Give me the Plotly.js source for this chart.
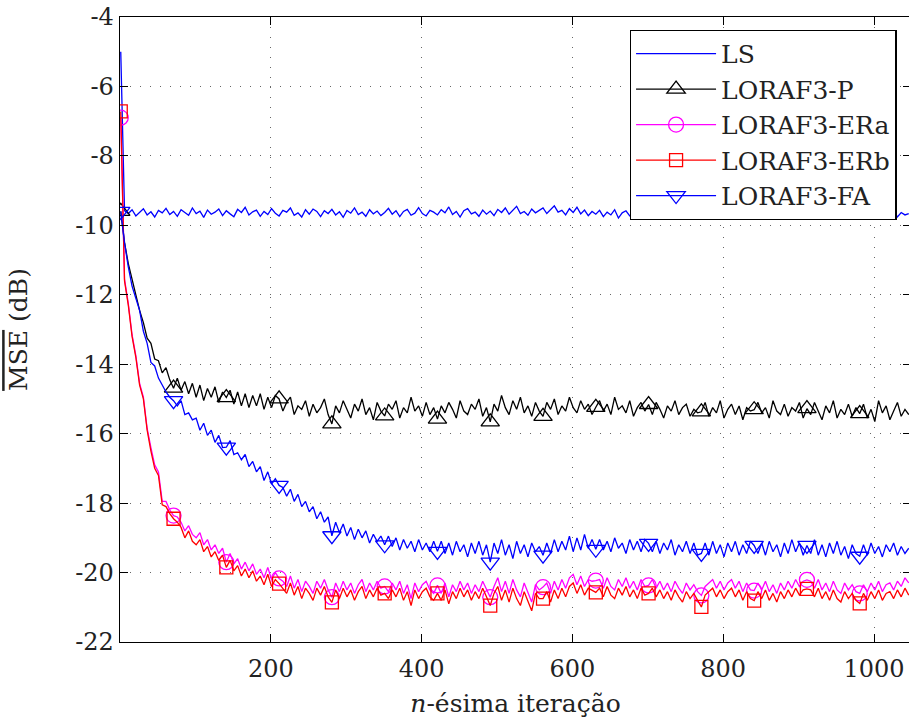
<!DOCTYPE html>
<html>
<head>
<meta charset="utf-8">
<script src="https://cdn.plot.ly/plotly-3.0.1.min.js"></script>
<style>
html, body { margin: 0; padding: 0; overflow: hidden; background: #fff; }
#chart { width: 913px; height: 722px; }
</style>
</head>
<body>
<div id="chart"></div>
<script>
// Iteration sampling: n = 1, 6, 11, ... (every 5th iteration)
const iterStart = 1;
const iterStep = 5;
const markerEvery = 14; // markers every 70 iterations (n = 1, 71, 141, ...)

const seriesNames = ['LS', 'LORAF3-P', 'LORAF3-ERa', 'LORAF3-ERb', 'LORAF3-FA'];

const LS = [
 -5.00,-9.58,-9.66,-9.55,-9.73,-9.62,-9.52,-9.70,-9.61,-9.76,-9.57,-9.64,-9.51,-9.69,
 -9.60,-9.74,-9.55,-9.63,-9.71,-9.50,-9.66,-9.59,-9.77,-9.56,-9.68,-9.62,-9.53,-9.72,
 -9.58,-9.67,-9.75,-9.54,-9.63,-9.48,-9.70,-9.61,-9.56,-9.74,-9.60,-9.69,-9.52,-9.65,
 -9.73,-9.57,-9.62,-9.50,-9.71,-9.64,-9.76,-9.55,-9.68,-9.53,-9.60,-9.75,-9.58,-9.66,
 -9.54,-9.70,-9.61,-9.77,-9.57,-9.65,-9.50,-9.69,-9.62,-9.74,-9.55,-9.67,-9.59,-9.72,
 -9.63,-9.51,-9.68,-9.58,-9.75,-9.60,-9.54,-9.71,-9.65,-9.49,-9.66,-9.73,-9.57,-9.62,
 -9.70,-9.55,-9.64,-9.47,-9.69,-9.60,-9.76,-9.58,-9.52,-9.67,-9.62,-9.74,-9.56,-9.68,
 -9.59,-9.72,-9.54,-9.63,-9.50,-9.68,-9.57,-9.45,-9.66,-9.60,-9.71,-9.53,-9.64,-9.58,
 -9.50,-9.66,-9.55,-9.44,-9.62,-9.57,-9.70,-9.52,-9.63,-9.48,-9.67,-9.56,-9.72,-9.60,
 -9.68,-9.57,-9.75,-9.62,-9.70,-9.55,-9.79,-9.64,-9.58,-9.73,-9.66,-9.60,-9.77,-9.63,
 -9.71,-9.59,-9.68,-9.80,-9.62,-9.74,-9.57,-9.69,-9.65,-9.78,-9.60,-9.72,-9.63,-9.70,
 -9.58,-9.75,-9.66,-9.61,-9.82,-9.64,-9.70,-9.57,-9.73,-9.67,-9.79,-9.60,-9.69,-9.74,
 -9.62,-9.71,-9.58,-9.77,-9.66,-9.72,-9.60,-9.83,-9.65,-9.70,-9.59,-9.76,-9.64,-9.68,
 -9.73,-9.61,-9.69,-9.57,-9.78,-9.66,-9.71,-9.63,-9.75,-9.58,-9.70,-9.80,-9.62,-9.68,
 -9.64,-9.74,-9.60,-9.70,-9.67,-9.79,-9.61,-9.72,-9.65,-9.58,-9.76,-9.63,-9.70,-9.66
];

const LORAF3_P = [
 -9.60,-10.50,-11.10,-11.60,-12.00,-12.45,-12.80,-13.25,-13.40,-13.85,-13.90,-14.25,-14.10,-14.45,
 -14.69,-14.40,-14.75,-14.50,-14.85,-14.55,-14.95,-14.60,-15.05,-14.70,-14.95,-14.65,-15.10,-14.80,
 -14.96,-14.75,-15.15,-14.80,-15.20,-14.85,-15.25,-14.90,-15.20,-14.85,-15.30,-14.95,-15.25,-14.90,
 -15.00,-15.35,-15.10,-14.95,-15.45,-15.20,-15.30,-15.05,-15.50,-15.15,-15.40,-15.25,-15.00,-15.45,
 -15.72,-15.20,-15.40,-15.05,-15.30,-15.55,-15.15,-15.35,-15.00,-15.45,-15.25,-15.60,-15.10,-15.35,
 -15.49,-15.15,-15.30,-15.05,-15.55,-15.25,-15.40,-14.95,-15.35,-15.20,-15.50,-15.10,-15.45,-15.25,
 -15.58,-15.20,-15.40,-15.10,-15.30,-15.55,-15.05,-15.35,-15.45,-15.15,-15.30,-15.00,-15.50,-15.25,
 -15.66,-15.15,-15.35,-14.90,-15.25,-15.45,-15.05,-15.30,-14.95,-15.40,-15.20,-15.50,-15.10,-15.35,
 -15.50,-15.10,-15.30,-15.00,-15.45,-15.20,-15.35,-14.95,-15.25,-15.40,-15.05,-15.30,-15.15,-15.45,
 -15.24,-15.05,-15.35,-15.15,-15.45,-14.95,-15.30,-15.20,-15.40,-15.05,-15.50,-15.25,-15.10,-15.35,
 -15.16,-15.45,-15.10,-15.30,-15.55,-15.20,-15.35,-15.05,-15.45,-15.25,-15.15,-15.50,-15.30,-15.40,
 -15.37,-15.10,-15.50,-15.25,-15.40,-15.05,-15.55,-15.30,-15.15,-15.45,-15.20,-15.60,-15.25,-15.35,
 -15.31,-15.10,-15.40,-15.25,-15.55,-15.05,-15.35,-15.45,-15.15,-15.50,-15.25,-15.35,-15.10,-15.55,
 -15.28,-15.45,-15.10,-15.35,-15.60,-15.20,-15.40,-15.05,-15.55,-15.30,-15.45,-15.15,-15.50,-15.25,
 -15.42,-15.15,-15.55,-15.30,-15.65,-15.05,-15.40,-15.20,-15.60,-15.35,-15.10,-15.50,-15.30,-15.45
];

const LORAF3_ERa = [
 -6.90,-11.55,-12.25,-13.15,-13.75,-14.55,-14.95,-15.85,-16.40,-16.90,-17.10,-17.95,-17.95,-18.20,
 -18.36,-18.40,-18.55,-18.80,-18.65,-18.90,-19.00,-18.85,-19.20,-19.05,-19.35,-19.20,-19.45,-19.30,
 -19.70,-19.45,-19.75,-19.60,-19.90,-19.70,-19.95,-19.75,-20.05,-19.90,-20.15,-19.85,-20.20,-20.00,
 -20.17,-20.25,-20.40,-20.10,-20.45,-20.20,-20.55,-20.25,-20.40,-20.60,-20.25,-20.45,-20.20,-20.50,
 -20.71,-20.30,-20.55,-20.25,-20.50,-20.30,-20.60,-20.35,-20.20,-20.55,-20.30,-20.50,-20.25,-20.45,
 -20.40,-20.55,-20.30,-20.50,-20.25,-20.60,-20.35,-20.75,-20.30,-20.55,-20.35,-20.25,-20.50,-20.60,
 -20.37,-20.60,-20.30,-20.70,-20.35,-20.55,-20.25,-20.50,-20.30,-20.60,-20.35,-20.55,-20.25,-20.50,
 -20.71,-20.40,-20.15,-20.55,-20.25,-20.60,-20.20,-20.50,-20.70,-20.30,-20.55,-20.85,-20.35,-20.50,
 -20.42,-20.30,-20.60,-20.25,-20.50,-20.20,-20.45,-20.15,-20.05,-20.35,-20.10,-20.40,-20.20,-20.25,
 -20.23,-20.20,-20.45,-20.15,-20.40,-20.50,-20.20,-20.40,-20.15,-20.45,-20.25,-20.50,-20.20,-20.40,
 -20.37,-20.20,-20.45,-20.25,-20.50,-20.30,-20.55,-20.25,-20.45,-20.60,-20.30,-20.50,-20.35,-20.55,
 -20.66,-20.40,-20.30,-20.20,-20.45,-20.25,-20.50,-20.30,-20.20,-20.45,-20.25,-20.55,-20.30,-20.50,
 -20.52,-20.30,-20.50,-20.25,-20.55,-20.35,-20.60,-20.30,-20.50,-20.25,-20.45,-20.20,-20.40,-20.25,
 -20.21,-20.25,-20.45,-20.20,-20.50,-20.30,-20.55,-20.25,-20.50,-20.60,-20.30,-20.50,-20.35,-20.55,
 -20.60,-20.35,-20.55,-20.30,-20.50,-20.25,-20.55,-20.35,-20.30,-20.50,-20.25,-20.40,-20.15,-20.30
];

const LORAF3_ERb = [
 -6.72,-11.60,-12.30,-13.20,-13.80,-14.60,-15.00,-15.90,-16.50,-17.00,-17.20,-18.05,-18.10,-18.30,
 -18.45,-18.55,-18.70,-19.00,-18.80,-19.10,-19.20,-19.05,-19.40,-19.25,-19.55,-19.40,-19.65,-19.50,
 -19.85,-19.65,-19.95,-19.80,-20.10,-19.90,-20.15,-19.95,-20.25,-20.10,-20.35,-20.05,-20.40,-20.20,
 -20.32,-20.45,-20.60,-20.30,-20.65,-20.40,-20.75,-20.45,-20.60,-20.80,-20.45,-20.65,-20.40,-20.70,
 -20.86,-20.50,-20.75,-20.45,-20.70,-20.50,-20.80,-20.55,-20.40,-20.75,-20.50,-20.70,-20.45,-20.65,
 -20.60,-20.75,-20.50,-20.70,-20.45,-20.80,-20.55,-20.95,-20.50,-20.75,-20.55,-20.45,-20.70,-20.80,
 -20.60,-20.80,-20.50,-20.90,-20.55,-20.75,-20.45,-20.70,-20.50,-20.80,-20.55,-20.75,-20.45,-20.70,
 -20.95,-20.60,-20.40,-20.80,-20.50,-20.85,-20.45,-20.75,-20.95,-20.55,-20.80,-21.10,-20.60,-20.75,
 -20.75,-20.55,-20.85,-20.50,-20.75,-20.45,-20.70,-20.40,-20.30,-20.60,-20.35,-20.65,-20.45,-20.50,
 -20.57,-20.45,-20.70,-20.40,-20.65,-20.75,-20.45,-20.65,-20.40,-20.70,-20.50,-20.75,-20.45,-20.65,
 -20.60,-20.45,-20.70,-20.50,-20.75,-20.55,-20.80,-20.50,-20.70,-20.85,-20.55,-20.75,-20.60,-20.80,
 -20.99,-20.65,-20.55,-20.45,-20.70,-20.50,-20.75,-20.55,-20.45,-20.70,-20.50,-20.80,-20.55,-20.75,
 -20.81,-20.55,-20.75,-20.50,-20.80,-20.60,-20.85,-20.55,-20.75,-20.50,-20.70,-20.45,-20.65,-20.50,
 -20.47,-20.50,-20.70,-20.45,-20.75,-20.55,-20.80,-20.50,-20.75,-20.85,-20.55,-20.75,-20.60,-20.80,
 -20.89,-20.60,-20.80,-20.55,-20.75,-20.50,-20.80,-20.60,-20.55,-20.75,-20.50,-20.70,-20.45,-20.65
];

const LORAF3_FA = [
 -9.60,-10.50,-11.20,-11.75,-12.10,-12.45,-13.05,-13.40,-13.95,-14.05,-14.40,-14.60,-14.80,-14.95,
 -15.05,-15.20,-15.05,-15.45,-15.40,-15.60,-15.55,-15.90,-15.70,-16.05,-15.90,-16.25,-16.05,-16.40,
 -16.39,-16.20,-16.60,-16.55,-16.75,-16.60,-16.95,-16.80,-17.10,-16.95,-17.35,-17.10,-17.45,-17.30,
 -17.49,-17.55,-17.80,-17.60,-17.95,-17.75,-18.10,-17.95,-18.25,-18.10,-18.45,-18.25,-18.55,-18.40,
 -18.94,-18.55,-18.85,-18.60,-18.95,-18.70,-19.05,-18.75,-19.00,-18.80,-19.15,-18.90,-19.10,-18.95,
 -19.20,-18.95,-19.25,-19.00,-19.35,-19.05,-19.30,-19.10,-19.40,-19.05,-19.35,-19.15,-19.40,-19.10,
 -19.39,-19.10,-19.45,-19.15,-19.50,-19.10,-19.40,-19.20,-19.55,-19.15,-19.45,-19.10,-19.50,-19.20,
 -19.70,-19.15,-19.45,-19.05,-19.50,-19.20,-19.60,-19.10,-19.45,-19.20,-19.55,-19.15,-19.40,-19.25,
 -19.50,-19.15,-19.45,-19.05,-19.40,-19.10,-19.35,-18.95,-19.40,-19.00,-19.35,-18.90,-19.30,-19.05,
 -19.33,-19.05,-19.35,-19.10,-19.40,-19.00,-19.30,-19.15,-19.45,-19.05,-19.35,-19.10,-19.40,-19.05,
 -19.16,-19.40,-19.10,-19.45,-19.15,-19.35,-19.05,-19.50,-19.20,-19.40,-19.10,-19.45,-19.15,-19.50,
 -19.45,-19.15,-19.50,-19.10,-19.45,-19.20,-19.55,-19.15,-19.40,-19.10,-19.50,-19.20,-19.45,-19.10,
 -19.22,-19.45,-19.15,-19.50,-19.10,-19.40,-19.20,-19.55,-19.15,-19.45,-19.05,-19.40,-19.15,-19.50,
 -19.22,-19.45,-19.05,-19.50,-19.20,-19.55,-19.15,-19.45,-19.10,-19.50,-19.25,-19.60,-19.20,-19.45,
 -19.53,-19.20,-19.50,-19.15,-19.45,-19.25,-19.55,-19.20,-19.40,-19.15,-19.50,-19.25,-19.45,-19.30
];

const xTickVals = [200, 400, 600, 800, 1000];
const xTickText = ['200', '400', '600', '800', '1000'];
const yTickVals = [-4, -6, -8, -10, -12, -14, -16, -18, -20, -22];
const yTickText = ['-4', '-6', '-8', '-10', '-12', '-14', '-16', '-18', '-20', '-22'];

const seriesData = [LS, LORAF3_P, LORAF3_ERa, LORAF3_ERb, LORAF3_FA];
const seriesColors = ['#0000ff', '#000000', '#ff00ff', '#ff0000', '#0000ff'];
const seriesSymbols = [null, 'triangle-up-open', 'circle-open', 'square-open', 'triangle-down-open'];
const seriesMarkerSize = [0, 16, 15, 13, 16];

const FONT = 'DejaVu Serif';

const traces = [];
seriesData.forEach((ys, k) => {
  const xs = ys.map((_, i) => iterStart + iterStep * i);
  traces.push({
    x: xs, y: ys, type: 'scatter', mode: 'lines',
    name: seriesNames[k],
    line: { color: seriesColors[k], width: 1.3 },
    showlegend: seriesSymbols[k] === null,
    hoverinfo: 'skip'
  });
  if (seriesSymbols[k]) {
    const mx = [], my = [];
    ys.forEach((v, i) => {
      if (i % markerEvery === 0 && i + 1 < ys.length) {
        mx.push(xs[i], null);
        my.push(v, null);
      }
    });
    traces.push({
      x: mx, y: my, type: 'scatter', mode: 'lines+markers',
      name: seriesNames[k],
      connectgaps: false,
      line: { color: seriesColors[k], width: 1.3 },
      marker: { symbol: seriesSymbols[k], size: seriesMarkerSize[k], color: seriesColors[k],
                line: { color: seriesColors[k], width: 1.3 } },
      showlegend: true,
      hoverinfo: 'skip'
    });
  }
});

const axisCommon = {
  showline: true, linecolor: '#000', linewidth: 1.3, mirror: 'ticks',
  ticks: 'inside', ticklen: 8, tickwidth: 1, tickcolor: '#000',
  showgrid: true, gridcolor: '#666', gridwidth: 1, griddash: '1px,9px',
  zeroline: false,
  tickfont: { family: FONT, size: 24, color: '#222' },
  tickmode: 'array'
};

const layout = {
  width: 913, height: 722,
  margin: { l: 120, r: 2, t: 17, b: 80 },
  paper_bgcolor: '#fff', plot_bgcolor: '#fff',
  font: { family: FONT, size: 24, color: '#222' },
  xaxis: Object.assign({}, axisCommon, {
    range: [0, 1049],
    tickvals: xTickVals, ticktext: xTickText,
    ticklabelstandoff: 5,
    title: { text: '<i>n</i>-ésima iteração', font: { family: FONT, size: 25, color: '#222' }, standoff: 12 }
  }),
  yaxis: Object.assign({}, axisCommon, {
    range: [-22, -4],
    tickvals: yTickVals, ticktext: yTickText,
    title: { text: '<span style="text-decoration:overline">MSE</span> (dB)', font: { family: FONT, size: 25, color: '#222' }, standoff: 40 }
  }),
  legend: {
    x: 0.982, y: 0.98, xanchor: 'right', yanchor: 'top',
    bgcolor: '#fff', bordercolor: '#000', borderwidth: 1.3,
    font: { family: FONT, size: 25, color: '#222' },
    itemwidth: 80,
    tracegroupgap: 0
  },
  showlegend: true
};

Plotly.newPlot('chart', traces, layout, { displayModeBar: false, staticPlot: true });
</script>
</body>
</html>
